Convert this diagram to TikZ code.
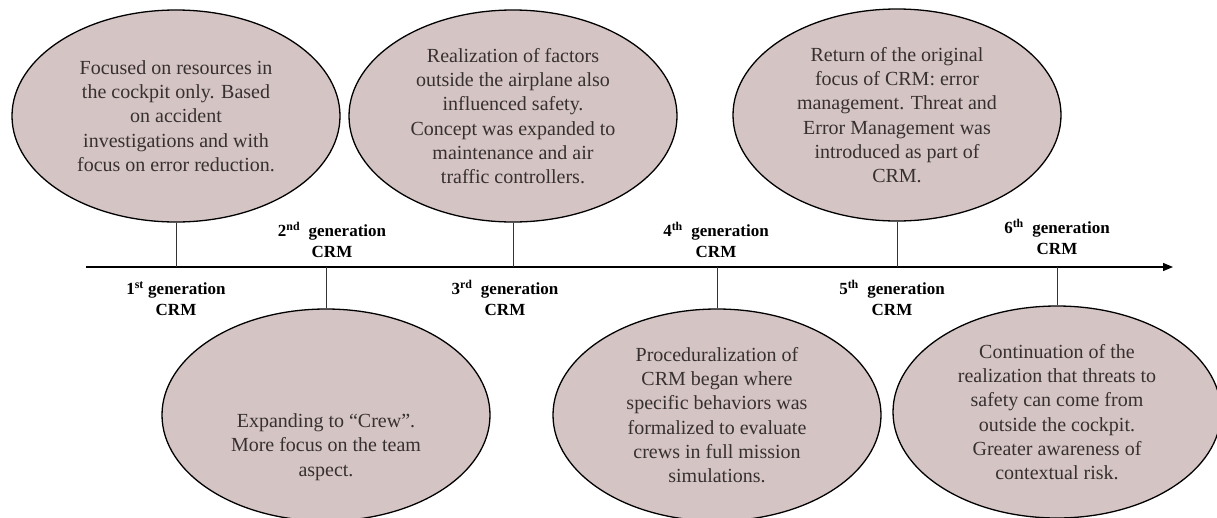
\documentclass[tikz,border=0pt]{standalone}
\usepackage{fontspec}
\setmainfont{Liberation Serif}
\usepackage{tikz}
\usetikzlibrary{shapes.geometric,arrows.meta}

\definecolor{crmfill}{RGB}{213,196,196}
\definecolor{crmtext}{RGB}{55,48,48}

\tikzset{
  event/.style={ellipse, draw=black, line width=1.3pt, fill=crmfill,
    minimum width=328pt, minimum height=212pt, inner sep=0pt,
    align=center, text=crmtext, font=\fontsize{20}{24.3}\selectfont},
  genlabel/.style={align=center, font=\bfseries\fontsize{17}{21}\selectfont},
  stem/.style={line width=1pt, black!80}
}

\begin{document}
\begin{tikzpicture}[x=1pt,y=-1pt]
    \useasboundingbox (0,0) rectangle (1217,517);

    % time axis
    \coordinate (t0) at (86,267);
    \coordinate (t1) at (1173,267);
    \draw[line width=1.3pt,-{Triangle[length=10pt,width=8pt]}] (t0) -- (t1);

    % upper generations
    \node[event] (crm1) at (176,116) {Focused on resources in\\the cockpit only. Based\\on accident\\investigations  and with\\focus on error reduction.};
    \node[event] (crm3) at (513,116) {Realization  of factors\\outside the airplane  also\\influenced  safety.\\Concept was expanded to\\maintenance  and air\\traffic  controllers.};
    \node[event] (crm5) at (897,115) {Return of the original\\focus of CRM: error\\management.  Threat and\\Error Management  was\\introduced as part of\\CRM.};

    % lower generations
    \node[event] (crm2) at (326,415) {};
    \node[align=center, text=crmtext, font=\fontsize{20}{24.3}\selectfont] (crm2txt) at (326,447) {Expanding to “Crew”.\\More focus on the team\\aspect.};
    \node[event] (crm4) at (717,415) {Proceduralization  of\\CRM began  where\\specific behaviors was\\formalized  to evaluate\\crews in full  mission\\simulations.};
    \node[event] (crm6) at (1057,412) {Continuation  of the\\realization  that threats to\\safety can come from\\outside the cockpit.\\Greater awareness of\\contextual risk.};

    \draw[stem] (crm1.south) -- (crm1.south |- t0);
    \draw[stem] (crm3.south) -- (crm3.south |- t0);
    \draw[stem] (crm5.south) -- (crm5.south |- t0);
    \draw[stem] (crm2.north |- t0) -- (crm2.north);
    \draw[stem] (crm4.north |- t0) -- (crm4.north);
    \draw[stem] (crm6.north |- t0) -- (crm6.north);

    % generation labels
    \node[genlabel] (gen1) at (176,299) {1\textsuperscript{st} generation\\CRM};
    \node[genlabel] (gen2) at (332,240) {2\textsuperscript{nd}\ \ generation\\CRM};
    \node[genlabel] (gen3) at (505,298) {3\textsuperscript{rd}\ \ generation\\CRM};
    \node[genlabel] (gen4) at (716,240) {4\textsuperscript{th}\ \ generation\\CRM};
    \node[genlabel] (gen5) at (892,298) {5\textsuperscript{th}\ \ generation\\CRM};
    \node[genlabel] (gen6) at (1057,237) {6\textsuperscript{th}\ \ generation\\CRM};
\end{tikzpicture}
\end{document}
